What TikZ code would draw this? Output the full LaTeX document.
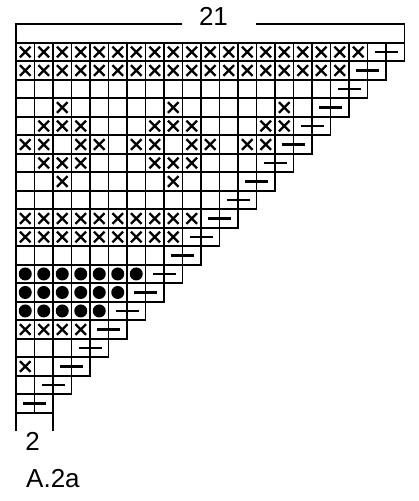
\documentclass[tikz,border=0pt]{standalone}
\usepackage{fontspec}
\setmainfont{Liberation Sans}
\begin{document}
\begin{tikzpicture}[x=1pt,y=-1pt]
\def\c{18.5}\def\xo{16}\def\yo{42.7}
\tikzset{
  cellbox/.style={line width=1.6pt,black},
  xmark/.style={line width=2.3pt,black},
  dashmark/.style={line width=2.6pt,black},
  dotmark/.style={fill=black},
  lbl/.style={font=\fontsize{26}{31}\selectfont,inner sep=0pt}
}
\useasboundingbox (0,0) rectangle (419,501);
% grid cells and decrease marks
\foreach \r in {1,...,20}{
  \pgfmathtruncatemacro\n{22-\r}
  \foreach \i in {1,...,\n}{
    \draw[cellbox] ({\xo+(\i-1)*\c},{\yo+(\r-1)*\c}) rectangle ++(\c,\c);
  }
  \draw[dashmark] ({\xo+(21-\r)*\c-11.5},{\yo+(\r-0.5)*\c}) -- ++(23,0);
}
% crosses
\foreach \r/\cols in {1/{1,...,19},2/{1,...,18},4/{3,9,15},5/{2,3,4,8,9,10,14,15},6/{1,2,4,5,7,8,10,11,13,14},7/{2,3,4,8,9,10},8/{3,9},10/{1,...,10},11/{1,...,9},16/{1,2,3,4},18/{1}}{
  \foreach \i in \cols{
    \draw[xmark] ({\xo+(\i-0.5)*\c-5.3},{\yo+(\r-0.5)*\c-5.3}) -- ++(10.6,10.6)
                 ({\xo+(\i-0.5)*\c-5.3},{\yo+(\r-0.5)*\c+5.3}) -- ++(10.6,-10.6);
  }
}
% dots
\foreach \r/\m in {13/7,14/6,15/5}{
  \foreach \i in {1,...,\m}{
    \fill[dotmark] ({\xo+(\i-0.5)*\c},{\yo+(\r-0.5)*\c}) circle (6.5);
  }
}
% top bracket
\coordinate (tl) at (\xo,\yo);
\coordinate (tr) at ({\xo+21*\c},\yo);
\draw[cellbox] (tl) -- (\xo,24) -- (182,24);
\draw[cellbox] (256,24) -- ({\xo+21*\c},24) -- (tr);
\node[lbl,anchor=base] (total) at (213.5,25) {21};
% bottom bracket
\coordinate (bl) at (\xo,{\yo+20*\c});
\coordinate (br) at ({\xo+2*\c},{\yo+20*\c});
\draw[cellbox] (bl) -- ++(0,18.5);
\draw[cellbox] (br) -- ++(0,18.5);
\node[lbl,anchor=base] (base) at (32.5,450.7) {2};
\node[lbl,anchor=base west] (name) at (26,487.7) {A.2a};
\end{tikzpicture}
\end{document}
